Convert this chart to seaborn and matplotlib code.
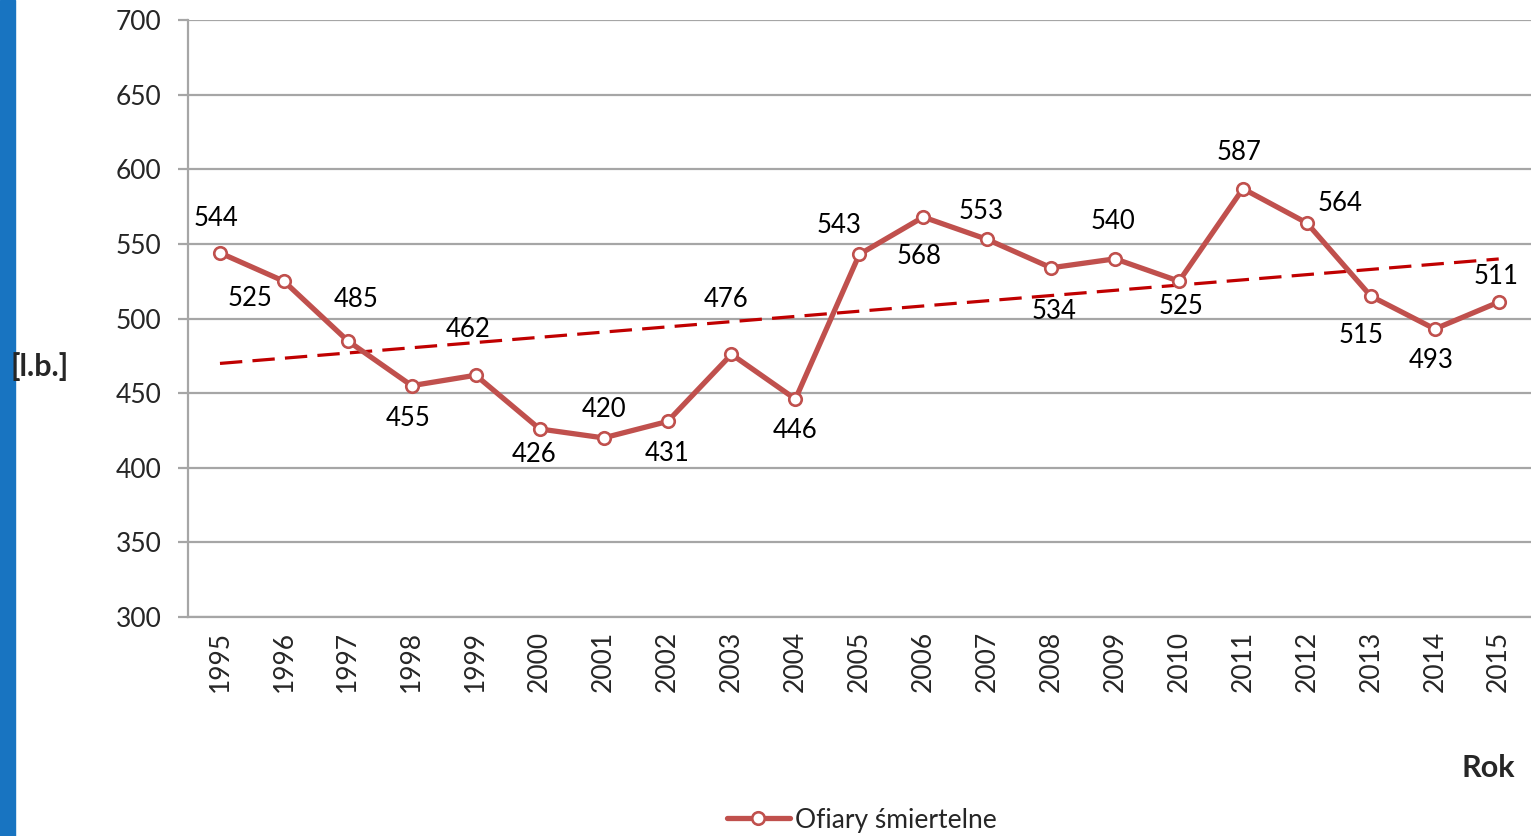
import numpy as np
import pandas as pd
import matplotlib
matplotlib.use("Agg")
import matplotlib.pyplot as plt
from matplotlib.patches import Rectangle
import seaborn as sns

# Chart data
years = list(range(1995, 2016))
fatalities = [544, 525, 485, 455, 462, 426, 420, 431, 476, 446, 543,
              568, 553, 534, 540, 525, 587, 564, 515, 493, 511]
series_name = "Ofiary śmiertelne"
y_ticks = [300, 350, 400, 450, 500, 550, 600, 650, 700]

# label offsets in pixels (dx, dy) -- mimic Excel data label placement
label_offsets = [(-4, 34), (-34, -17), (8, 41), (-4, -33), (-8, 46), (-6, -26),
                 (0, 28), (0, -32), (-5, 55), (0, -31), (-20, 29), (-4, -39),
                 (-6, 28), (3, -44), (-2, 37), (2, -25), (-4, 36), (33, 20),
                 (-10, -39), (-4, -32), (-3, 26)]

sns.set_theme(style="white")
plt.rcParams["font.family"] = ["Lato", "DejaVu Sans"]

df = pd.DataFrame({"Rok": years, "value": fatalities})

fig = plt.figure(figsize=(15.31, 8.36), dpi=100)
ax = fig.add_axes([0.1228, 0.262, 0.877, 0.714])

line_color = "#C0504D"
grid_color = "#A6A6A6"
fs = 19

# linear trend of the series
coef = np.polyfit(df["Rok"], df["value"], 1)
trend = np.polyval(coef, df["Rok"])
ax.plot(df["Rok"], trend, color="#C00000", lw=2.3, dashes=(7, 3.2), zorder=2)

sns.lineplot(data=df, x="Rok", y="value", ax=ax, color=line_color, lw=3.8,
             marker="o", markersize=9, markerfacecolor="white",
             markeredgecolor=line_color, markeredgewidth=1.9, zorder=3,
             label=series_name, legend=False)

for yr, val, (dx, dy) in zip(years, fatalities, label_offsets):
    ax.annotate(str(val), (yr, val), xytext=(dx, dy), textcoords="offset pixels",
                ha="center", va="center", fontsize=18.5, color="black")

ax.set_xlim(years[0] - 0.5, years[-1] + 0.5)
ax.set_ylim(300, 700)
ax.set_yticks(y_ticks)
ax.yaxis.grid(True, color=grid_color, lw=1.6)
ax.set_axisbelow(True)

ax.set_xticks(years)
ax.set_xticklabels([str(y) for y in years], rotation=90, fontsize=fs)
ax.set_xticks(np.arange(years[0] - 0.5, years[-1] + 1, 1), minor=True)
ax.tick_params(axis="x", which="major", length=0, pad=10)
ax.tick_params(axis="x", which="minor", length=7, width=1.6, color=grid_color, direction="out")
ax.tick_params(axis="y", length=7, width=1.6, color=grid_color, labelsize=fs, pad=12, left=True)

for side in ["top", "right"]:
    ax.spines[side].set_visible(False)
for side in ["left", "bottom"]:
    ax.spines[side].set_color(grid_color)
    ax.spines[side].set_linewidth(1.6)

ax.set_xlabel("")
ax.set_ylabel("")
fig.text(40 / 1531, 1 - 367 / 836, "[l.b.]", fontsize=22, fontweight="bold",
         ha="center", va="center")
fig.text(1488 / 1531, 1 - 768 / 836, "Rok", fontsize=22, fontweight="bold",
         ha="center", va="center")

handles, labels = ax.get_legend_handles_labels()
fig.legend(handles, labels, loc="center", bbox_to_anchor=(0.563, 0.019),
           frameon=False, fontsize=fs, handlelength=2.4, handletextpad=0.2,
           borderpad=0)

# blue stripe on the left edge
fig.patches.append(Rectangle((0, 0), 15 / 1531, 1, transform=fig.transFigure,
                             color="#1874C1", zorder=0))

fig.savefig("out.png", dpi=100)
